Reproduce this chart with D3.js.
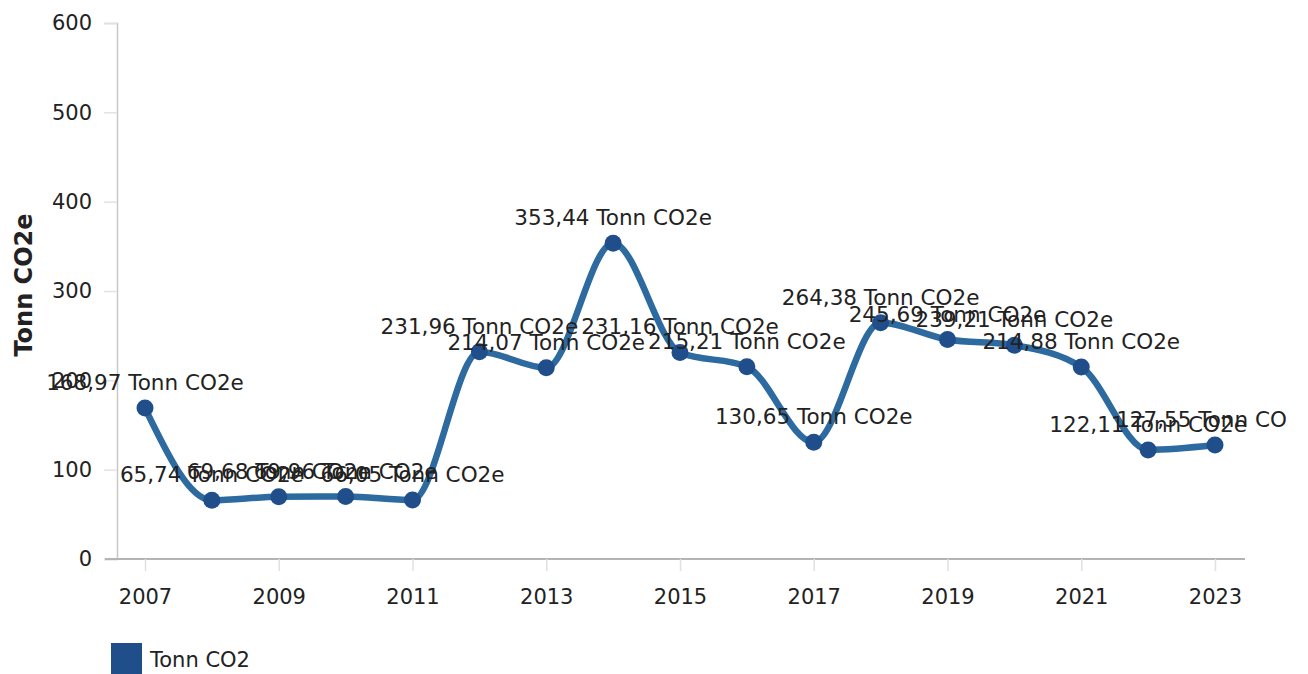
<!DOCTYPE html>
<html>
<head>
<meta charset="utf-8">
<script src="https://cdn.jsdelivr.net/npm/d3@7"></script>
<style>
  html, body { margin: 0; padding: 0; background: #fff; }
  svg { display: block; font-family: "DejaVu Sans", Verdana, sans-serif; }
</style>
</head>
<body>
<svg id="chart" width="1308" height="674"></svg>
<script>
const years = [2007, 2008, 2009, 2010, 2011, 2012, 2013, 2014, 2015, 2016, 2017, 2018, 2019, 2020, 2021, 2022, 2023];
const values = [168.97, 65.74, 69.68, 69.96, 66.05, 231.96, 214.07, 353.44, 231.16, 215.21, 130.65, 264.38, 245.69, 239.21, 214.88, 122.11, 127.55];
const labels = ["168,97", "65,74", "69,68", "69,96", "66,05", "231,96", "214,07", "353,44", "231,16", "215,21", "130,65", "264,38", "245,69", "239,21", "214,88", "122,11", "127,55"];
const unit = "Tonn CO2e";
const yTicks = [0, 100, 200, 300, 400, 500, 600];
const xTicks = [2007, 2009, 2011, 2013, 2015, 2017, 2019, 2021, 2023];
const seriesName = "Tonn CO2";
const yTitle = "Tonn CO2e";

const svg = d3.select("#chart");
const x = d3.scaleLinear().domain([2007, 2023]).range([145, 1215]);
const y = d3.scaleLinear().domain([0, 600]).range([559, 23]);

const lineColor = "#2d6aa0";
const markerColor = "#1f4e8b";
const textColor = "#222";
const axisColor = "#c8c8c8";

svg.append("defs").append("clipPath").attr("id", "plotclip")
  .append("rect").attr("x", 0).attr("y", 0).attr("width", 1286).attr("height", 674);

// Y axis
const yAxis = d3.axisLeft(y).tickValues(yTicks).tickSize(13).tickPadding(12).tickFormat(d3.format("d"));
const gy = svg.append("g").attr("transform", "translate(117,0)").call(yAxis);
gy.select(".domain").attr("stroke", axisColor).attr("stroke-width", 1.5);
gy.selectAll(".tick line").attr("stroke", "#e2e2e2").attr("stroke-width", 1.5);
gy.selectAll(".tick text").attr("fill", textColor).style("font-size", "21px").style("font-family", "DejaVu Sans, sans-serif");

// X axis
const xAxis = d3.axisBottom(x).tickValues(xTicks).tickSize(12).tickPadding(18).tickFormat(d3.format("d"));
const gx = svg.append("g").attr("transform", "translate(0,559)").call(xAxis);
gx.select(".domain").attr("d", "M105,0H1245").attr("stroke", "#b4b4b4").attr("stroke-width", 1.8);
gx.selectAll(".tick line").attr("stroke", "#e0e0e0").attr("stroke-width", 1.5);
gx.selectAll(".tick text").attr("fill", textColor).style("font-size", "21px").style("font-family", "DejaVu Sans, sans-serif");

// Y title
svg.append("text")
  .attr("transform", "translate(32,285) rotate(-90)")
  .attr("text-anchor", "middle")
  .attr("fill", textColor)
  .style("font-size", "24px").style("font-weight", "bold")
  .text(yTitle);

// Line
const data = years.map((yr, i) => ({ year: yr, value: values[i], label: labels[i] }));
const line = d3.line().x(d => x(d.year)).y(d => y(d.value)).curve(d3.curveMonotoneX);
svg.append("path").datum(data)
  .attr("d", line)
  .attr("fill", "none")
  .attr("stroke", lineColor)
  .attr("stroke-width", 6.5)
  .attr("stroke-linejoin", "round")
  .attr("stroke-linecap", "round");

// Markers
svg.append("g").selectAll("circle").data(data).join("circle")
  .attr("cx", d => x(d.year)).attr("cy", d => y(d.value))
  .attr("r", 8.5).attr("fill", markerColor);

// Data labels
svg.append("g").attr("clip-path", "url(#plotclip)")
  .selectAll("text").data(data).join("text")
  .attr("x", d => x(d.year)).attr("y", d => y(d.value) - 18)
  .attr("text-anchor", "middle")
  .attr("fill", textColor)
  .style("font-size", "21.5px")
  .text(d => d.label + " " + unit);

// Legend
const lg = svg.append("g").attr("transform", "translate(111,643)");
lg.append("rect").attr("width", 31).attr("height", 31).attr("fill", markerColor);
lg.append("text").attr("x", 39).attr("y", 24).attr("fill", textColor)
  .style("font-size", "21px").text(seriesName);
</script>
</body>
</html>
